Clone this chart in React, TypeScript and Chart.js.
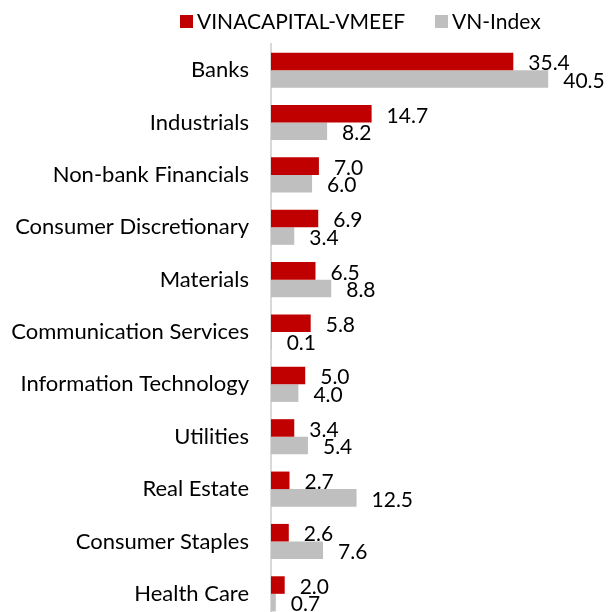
import React, { useEffect, useRef } from "react";
import { Chart, registerables } from "chart.js";

Chart.register(...registerables);

const categories = [
  "Banks",
  "Industrials",
  "Non-bank Financials",
  "Consumer Discretionary",
  "Materials",
  "Communication Services",
  "Information Technology",
  "Utilities",
  "Real Estate",
  "Consumer Staples",
  "Health Care",
];
const fundValues = [35.4, 14.7, 7.0, 6.9, 6.5, 5.8, 5.0, 3.4, 2.7, 2.6, 2.0];
const indexValues = [40.5, 8.2, 6.0, 3.4, 8.8, 0.1, 4.0, 5.4, 12.5, 7.6, 0.7];
const seriesNames = ["VINACAPITAL-VMEEF", "VN-Index"];

const FONT = "Lato";
const CAT_SIZE = 22;
const VAL_SIZE = 21;
const LEG_SIZE = 21;

const valueLabels = {
  id: "valueLabels",
  afterDatasetsDraw(chart: any) {
    const ctx = chart.ctx;
    ctx.save();
    ctx.font = `${VAL_SIZE}px ${FONT}`;
    ctx.fillStyle = "#000000";
    ctx.textAlign = "left";
    ctx.textBaseline = "middle";
    chart.data.datasets.forEach((ds: any, di: number) => {
      const meta = chart.getDatasetMeta(di);
      meta.data.forEach((bar: any, i: number) => {
        const v = ds.data[i];
        ctx.fillText(v.toFixed(1), bar.x + 15, bar.y + 2);
      });
    });
    ctx.restore();
  },
};

const customLegend = {
  id: "customLegend",
  afterDraw(chart: any) {
    const ctx = chart.ctx;
    ctx.save();
    ctx.font = `${LEG_SIZE}px ${FONT}`;
    ctx.textBaseline = "middle";
    ctx.textAlign = "left";
    const starts = [180, 435];
    chart.data.datasets.forEach((ds: any, di: number) => {
      const x = starts[di];
      ctx.fillStyle = ds.backgroundColor;
      ctx.fillRect(x, 15, 13, 13);
      ctx.fillStyle = "#000000";
      ctx.fillText(ds.label, x + 17, 22);
    });
    ctx.restore();
  },
};

export default function App() {
  const ref = useRef<HTMLCanvasElement>(null);
  useEffect(() => {
    if (!ref.current) return;
    const chart = new Chart(ref.current, {
      type: "bar",
      data: {
        labels: categories,
        datasets: [
          {
            label: seriesNames[0],
            data: fundValues,
            backgroundColor: "#c00000",
            categoryPercentage: 0.67,
            barPercentage: 1.0,
          },
          {
            label: seriesNames[1],
            data: indexValues,
            backgroundColor: "#bfbfbf",
            categoryPercentage: 0.67,
            barPercentage: 1.0,
          },
        ],
      },
      options: {
        indexAxis: "y",
        responsive: false,
        animation: false,
        layout: { padding: { top: 44, right: 31, bottom: 0, left: 0 } },
        plugins: {
          legend: { display: false },
          tooltip: { enabled: false },
        },
        scales: {
          x: {
            display: false,
            min: 0,
            max: 45,
            grid: { display: false },
          },
          y: {
            grid: { display: false, drawTicks: false },
            border: { display: true, color: "#d9d9d9", width: 2 },
            ticks: {
              color: "#000000",
              padding: 22,
              font: { family: FONT, size: CAT_SIZE },
            },
            afterFit(scale: any) {
              scale.width = 271;
              scale.paddingTop = 0;
              scale.paddingBottom = 0;
            },
          },
        },
      },
      plugins: [valueLabels, customLegend],
    });
    return () => chart.destroy();
  }, []);
  return (
    <div
      style={{
        position: "fixed",
        left: 0,
        top: 0,
        width: 610,
        height: 612,
        overflow: "hidden",
        background: "#ffffff",
      }}
    >
      <canvas ref={ref} width={610} height={620} />
    </div>
  );
}
